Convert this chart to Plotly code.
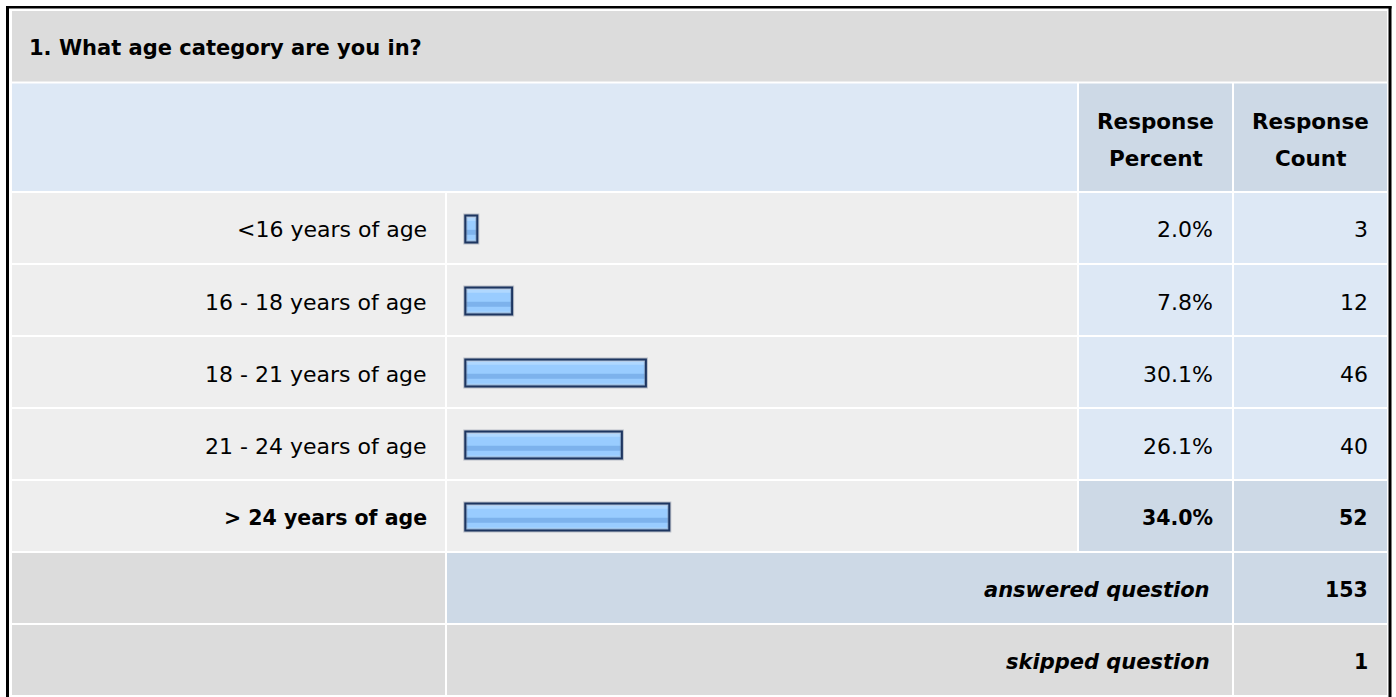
import plotly.graph_objects as go

# ---------------- data ----------------
question = "1. What age category are you in?"
categories = ["<16 years of age", "16 - 18 years of age", "18 - 21 years of age",
              "21 - 24 years of age", "> 24 years of age"]
percents = [2.0, 7.8, 30.1, 26.1, 34.0]
counts = [3, 12, 46, 40, 52]
answered_count = 153
skipped_count = 1
header_percent = ["Response", "Percent"]
header_count = ["Response", "Count"]

# ---------------- layout helpers ----------------
W, H = 1396, 697
FONT = "DejaVu Sans"


def px(x):
    return x / W


def py(y):
    return 1 - y / H


C_TITLE = "#dcdcdc"
C_HEAD = "#dde8f5"
C_HEAD_DARK = "#cdd9e6"
C_LABEL = "#eeeeee"
C_VAL = "#dde8f5"
C_VAL_DARK = "#cdd9e6"
C_GRAY = "#dcdcdc"

COL = [(12, 445), (447, 1077), (1079, 1232), (1234, 1387)]
ROW_TOP0, ROW_PITCH, ROW_H = 193, 72, 70

shapes = []


def rect(x0, y0, x1, y1, color):
    shapes.append(dict(type="rect", xref="paper", yref="paper",
                       x0=px(x0), x1=px(x1), y0=py(y1), y1=py(y0),
                       fillcolor=color, line=dict(width=0), layer="below"))


# outer frame
rect(6, 6, 9, H, "#000000")
rect(6, 6, 1391.5, 8.5, "#000000")
rect(1388.5, 6, 1391.5, H, "#000000")

# title row
rect(12, 11, 1387, 81.5, C_TITLE)
# header row
rect(12, 83.5, 1077, 191, C_HEAD)
rect(1079, 83.5, 1232, 191, C_HEAD_DARK)
rect(1234, 83.5, 1387, 191, C_HEAD_DARK)

imax = percents.index(max(percents))
n = len(categories)
for i in range(n):
    t = ROW_TOP0 + ROW_PITCH * i
    b = t + ROW_H
    rect(COL[0][0], t, COL[0][1], b, C_LABEL)
    rect(COL[1][0], t, COL[1][1], b, C_LABEL)
    vc = C_VAL_DARK if i == imax else C_VAL
    rect(COL[2][0], t, COL[2][1], b, vc)
    rect(COL[3][0], t, COL[3][1], b, vc)

# answered row
t = ROW_TOP0 + ROW_PITCH * n
rect(COL[0][0], t, COL[0][1], t + ROW_H, C_GRAY)
rect(COL[1][0], t, COL[2][1], t + ROW_H, C_VAL_DARK)
rect(COL[3][0], t, COL[3][1], t + ROW_H, C_VAL_DARK)
# skipped row
t2 = ROW_TOP0 + ROW_PITCH * (n + 1)
rect(COL[0][0], t2, COL[0][1], t2 + ROW_H, C_GRAY)
rect(COL[1][0], t2, COL[2][1], t2 + ROW_H, C_GRAY)
rect(COL[3][0], t2, COL[3][1], H - 2, C_GRAY)

# ---------------- bars ----------------
pos = list(range(n))
BAR_W = 27 / 72
fig = go.Figure()
fig.add_trace(go.Bar(orientation="h", x=percents, y=pos, width=BAR_W,
                     marker=dict(color="#99ccff", line=dict(width=0)),
                     hoverinfo="skip", showlegend=False))
stripes = [(-12 / 72, 3 / 72, "#c8e3ff"),
           (-9.3 / 72, 2.3 / 72, "#b0d8ff"),
           (3.3 / 72, 5 / 72, "#7db2ec"),
           (12 / 72, 3 / 72, "#a9d3fb")]
for d, h, c in stripes:
    fig.add_trace(go.Bar(orientation="h", x=percents, y=[p + d for p in pos], width=h,
                         marker=dict(color=c, line=dict(width=0)),
                         hoverinfo="skip", showlegend=False))
fig.add_trace(go.Bar(orientation="h", x=percents, y=pos, width=BAR_W,
                     marker=dict(color="rgba(0,0,0,0)",
                                 line=dict(color="rgba(120,130,150,0.45)", width=4)),
                     hoverinfo="skip", showlegend=False))
fig.add_trace(go.Bar(orientation="h", x=percents, y=pos, width=BAR_W,
                     marker=dict(color="rgba(0,0,0,0)",
                                 line=dict(color="#1d3560", width=2)),
                     hoverinfo="skip", showlegend=False))

# ---------------- text ----------------
annotations = []


def text(s, x, y, xanchor="right", size=22):
    annotations.append(dict(text=s, x=px(x), y=py(y), xref="paper", yref="paper",
                            xanchor=xanchor, yanchor="middle", showarrow=False,
                            borderpad=0,
                            font=dict(family=FONT, size=size, color="#000000")))


text("<b>%s</b>" % question, 28, 48, xanchor="left", size=21)
text("<b>%s</b>" % header_percent[0], 1155.5, 121.5, xanchor="center", size=21.5)
text("<b>%s</b>" % header_percent[1], 1155.5, 158, xanchor="center", size=21.5)
text("<b>%s</b>" % header_count[0], 1310.5, 121.5, xanchor="center", size=21.5)
text("<b>%s</b>" % header_count[1], 1310.5, 158, xanchor="center", size=21.5)

for i in range(n):
    cy = ROW_TOP0 + ROW_PITCH * i + 37
    if i == imax:
        text("<b>%s</b>" % categories[i], 428, cy, size=20.5)
        text("<b>%.1f%%</b>" % percents[i], 1214, cy, size=20.5)
        text("<b>%d</b>" % counts[i], 1369, cy, size=20.5)
    else:
        text(categories[i], 428, cy)
        text("%.1f%%" % percents[i], 1214, cy)
        text("%d" % counts[i], 1369, cy)

cy = ROW_TOP0 + ROW_PITCH * n + 37
text("<b><i>answered question</i></b>", 1211, cy, size=21)
text("<b>%d</b>" % answered_count, 1369, cy, size=20.5)
cy = ROW_TOP0 + ROW_PITCH * (n + 1) + 37
text("<b><i>skipped question</i></b>", 1211, cy, size=21)
text("<b>%d</b>" % skipped_count, 1369, cy, size=20.5)

fig.update_layout(
    width=W, height=H,
    margin=dict(l=0, r=0, t=0, b=0),
    paper_bgcolor="#ffffff", plot_bgcolor="rgba(0,0,0,0)",
    barmode="overlay",
    shapes=shapes, annotations=annotations,
    xaxis=dict(domain=[px(447), px(1077)], range=[-3.05, 101.95], visible=False,
               fixedrange=True),
    yaxis=dict(domain=[py(553), py(193)], range=[n - 0.5, -0.5], visible=False,
               fixedrange=True),
    showlegend=False,
)

fig.write_html("out.html", config=dict(displayModeBar=False),
               post_script="document.body.style.margin='0';document.body.style.overflow='hidden';")
